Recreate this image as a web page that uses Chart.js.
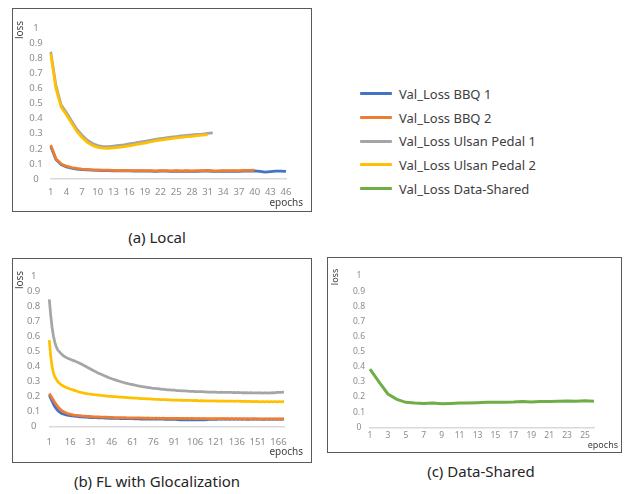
<!DOCTYPE html>
<html>
<head>
<meta charset="utf-8">
<script src="https://cdn.jsdelivr.net/npm/chart.js@4.4.0/dist/chart.umd.min.js"></script>
<style>
  body { margin: 0; background: #fff; font-family: "Noto Sans", sans-serif; }
  .box { position: absolute; border: 1px solid #595959; background: #fff; }
  .box canvas { display: block; }
  .cap { position: absolute; width: 220px; text-align: center; font-size: 15px; line-height: 20px; color: #262626; white-space: nowrap; }
  #legend { position: absolute; left: 360px; top: 82px; }
  .item { height: 23.7px; display: flex; align-items: center; font-size: 13px; color: #404040; }
  .item span.sw { display: inline-block; width: 32px; height: 3px; margin-right: 7px; border-radius: 1px; }
</style>
</head>
<body>
<div class="box" style="left:12px;top:8px;"><canvas id="chartA" width="298" height="202"></canvas></div>
<div class="box" style="left:12px;top:258px;"><canvas id="chartB" width="298" height="203"></canvas></div>
<div class="box" style="left:327px;top:257px;"><canvas id="chartC" width="293" height="194"></canvas></div>
<div class="cap" style="left:47px;top:227px;">(a) Local</div>
<div class="cap" style="left:47px;top:471px;">(b) FL with Glocalization</div>
<div class="cap" style="left:371px;top:461px;">(c) Data-Shared</div>
<div id="legend"></div>

<script>
// series names / colours (legend order)
const seriesNames = ['Val_Loss BBQ 1', 'Val_Loss BBQ 2', 'Val_Loss Ulsan Pedal 1', 'Val_Loss Ulsan Pedal 2', 'Val_Loss Data-Shared'];
const seriesColors = ['#4472C4', '#ED7D31', '#A5A5A5', '#FFC000', '#70AD47'];
const xTitle = 'epochs';
const yTitle = 'loss';

// (a) Local - epochs 1..46
const epochsA = Array.from({ length: 46 }, (_, i) => String(i + 1));
const localBBQ1 = [0.215,0.13,0.095,0.08,0.072,0.066,0.062,0.06,0.058,0.057,
  0.056,0.055,0.054,0.053,0.054,0.053,0.052,0.053,0.052,0.052,
  0.051,0.052,0.052,0.051,0.052,0.051,0.052,0.051,0.051,0.052,
  0.052,0.051,0.051,0.052,0.051,0.052,0.051,0.052,0.052,0.053,
  0.05,0.046,0.049,0.052,0.052,0.05];
const localBBQ2 = [0.225,0.135,0.1,0.085,0.076,0.07,0.066,0.063,0.061,0.06,
  0.059,0.058,0.057,0.056,0.057,0.056,0.055,0.056,0.055,0.055,
  0.054,0.055,0.055,0.054,0.055,0.054,0.055,0.054,0.055,0.056,
  0.057,0.055,0.054,0.055,0.056,0.055,0.056,0.057,0.057,0.058];
const localUlsan1 = [0.843,0.62,0.49,0.44,0.385,0.33,0.29,0.257,0.235,0.222,
  0.215,0.214,0.218,0.222,0.226,0.232,0.238,0.244,0.25,0.256,
  0.262,0.268,0.273,0.277,0.281,0.285,0.289,0.292,0.295,0.298,
  0.302,0.305];
const localUlsan2 = [0.83,0.6,0.475,0.425,0.37,0.315,0.275,0.243,0.222,0.21,
  0.204,0.203,0.206,0.21,0.214,0.22,0.226,0.232,0.238,0.245,
  0.252,0.258,0.263,0.268,0.272,0.276,0.28,0.283,0.287,0.29,
  0.294];

// (b) FL with Glocalization - epochs 1..170
const epochsB = Array.from({ length: 170 }, (_, i) => String(i + 1));
const flBBQ1 = [0.21,0.19,0.17,0.15,0.133,0.12,0.109,0.1,0.093,0.088,
  0.084,0.081,0.079,0.077,0.075,0.074,0.072,0.071,0.07,0.069,
  0.068,0.067,0.066,0.066,0.065,0.064,0.064,0.063,0.062,0.062,
  0.061,0.061,0.06,0.06,0.06,0.059,0.059,0.058,0.058,0.058,
  0.057,0.057,0.057,0.056,0.056,0.056,0.056,0.055,0.055,0.055,
  0.055,0.054,0.054,0.054,0.054,0.054,0.053,0.053,0.053,0.053,
  0.053,0.052,0.052,0.052,0.052,0.052,0.051,0.052,0.051,0.051,
  0.051,0.051,0.051,0.05,0.051,0.05,0.05,0.051,0.05,0.05,
  0.05,0.05,0.05,0.049,0.05,0.049,0.049,0.05,0.049,0.049,
  0.048,0.048,0.047,0.047,0.046,0.046,0.046,0.046,0.046,0.046,
  0.046,0.046,0.046,0.046,0.046,0.046,0.046,0.046,0.046,0.046,
  0.046,0.046,0.046,0.047,0.047,0.048,0.048,0.049,0.049,0.049,
  0.05,0.049,0.05,0.05,0.049,0.05,0.05,0.049,0.05,0.05,
  0.049,0.05,0.05,0.049,0.05,0.05,0.049,0.05,0.05,0.049,
  0.05,0.05,0.049,0.05,0.049,0.05,0.05,0.049,0.05,0.05,
  0.049,0.05,0.05,0.049,0.05,0.049,0.05,0.05,0.049,0.05,
  0.05,0.049,0.05,0.05,0.049,0.05,0.05,0.049,0.05,0.05];
const flBBQ2 = [0.22,0.205,0.19,0.175,0.16,0.147,0.135,0.124,0.115,0.107,
  0.101,0.096,0.092,0.088,0.085,0.083,0.081,0.079,0.077,0.076,
  0.075,0.074,0.073,0.072,0.071,0.07,0.07,0.069,0.068,0.068,
  0.067,0.067,0.066,0.066,0.065,0.065,0.065,0.064,0.064,0.064,
  0.063,0.063,0.063,0.062,0.062,0.062,0.062,0.061,0.061,0.061,
  0.061,0.06,0.06,0.06,0.06,0.06,0.059,0.059,0.059,0.059,
  0.059,0.058,0.059,0.058,0.058,0.058,0.058,0.057,0.058,0.057,
  0.057,0.058,0.057,0.057,0.057,0.056,0.057,0.057,0.056,0.057,
  0.056,0.056,0.057,0.056,0.056,0.056,0.055,0.056,0.056,0.055,
  0.056,0.055,0.056,0.055,0.055,0.056,0.055,0.055,0.054,0.055,
  0.055,0.054,0.055,0.055,0.054,0.055,0.054,0.054,0.055,0.054,
  0.054,0.055,0.054,0.054,0.053,0.054,0.054,0.053,0.054,0.054,
  0.053,0.054,0.053,0.053,0.054,0.053,0.053,0.054,0.053,0.053,
  0.052,0.053,0.053,0.052,0.053,0.053,0.052,0.053,0.052,0.052,
  0.053,0.052,0.052,0.053,0.052,0.052,0.052,0.053,0.052,0.052,
  0.052,0.051,0.052,0.052,0.051,0.052,0.052,0.051,0.052,0.052,
  0.051,0.052,0.052,0.051,0.052,0.052,0.051,0.052,0.052,0.052];
const flUlsan1 = [0.845,0.74,0.66,0.6,0.56,0.53,0.51,0.5,0.49,0.48,
  0.472,0.466,0.46,0.455,0.451,0.447,0.444,0.44,0.437,0.433,
  0.43,0.425,0.421,0.416,0.411,0.406,0.401,0.396,0.391,0.386,
  0.381,0.376,0.371,0.367,0.362,0.357,0.353,0.349,0.345,0.341,
  0.337,0.333,0.329,0.325,0.322,0.318,0.315,0.312,0.309,0.306,
  0.303,0.3,0.297,0.295,0.292,0.289,0.287,0.285,0.283,0.281,
  0.279,0.277,0.275,0.273,0.271,0.27,0.268,0.266,0.265,0.263,
  0.262,0.26,0.259,0.258,0.256,0.255,0.254,0.253,0.252,0.251,
  0.25,0.249,0.248,0.247,0.246,0.245,0.245,0.244,0.243,0.242,
  0.242,0.241,0.24,0.24,0.239,0.238,0.238,0.237,0.237,0.236,
  0.236,0.235,0.235,0.234,0.234,0.233,0.233,0.233,0.232,0.232,
  0.232,0.231,0.231,0.231,0.23,0.23,0.23,0.229,0.229,0.229,
  0.229,0.228,0.228,0.228,0.229,0.228,0.227,0.227,0.228,0.227,
  0.227,0.227,0.226,0.227,0.226,0.226,0.227,0.226,0.226,0.225,
  0.226,0.225,0.226,0.225,0.225,0.226,0.225,0.224,0.225,0.225,
  0.224,0.225,0.224,0.224,0.223,0.224,0.224,0.223,0.224,0.225,
  0.225,0.226,0.225,0.226,0.227,0.227,0.228,0.228,0.229,0.23];
const flUlsan2 = [0.575,0.47,0.4,0.355,0.33,0.315,0.3,0.29,0.282,0.275,
  0.27,0.265,0.261,0.257,0.253,0.25,0.247,0.244,0.241,0.238,
  0.235,0.232,0.229,0.227,0.225,0.223,0.221,0.22,0.218,0.217,
  0.216,0.215,0.213,0.212,0.211,0.21,0.209,0.208,0.207,0.206,
  0.205,0.204,0.203,0.202,0.202,0.201,0.2,0.199,0.199,0.198,
  0.197,0.197,0.196,0.195,0.195,0.194,0.193,0.193,0.192,0.191,
  0.191,0.19,0.19,0.189,0.188,0.188,0.187,0.187,0.186,0.186,
  0.185,0.185,0.184,0.184,0.183,0.183,0.182,0.182,0.181,0.181,
  0.18,0.18,0.18,0.179,0.179,0.178,0.178,0.178,0.177,0.177,
  0.177,0.176,0.176,0.176,0.175,0.176,0.175,0.175,0.174,0.175,
  0.174,0.174,0.175,0.173,0.174,0.173,0.174,0.173,0.172,0.173,
  0.172,0.173,0.172,0.171,0.172,0.171,0.172,0.171,0.17,0.171,
  0.171,0.17,0.171,0.17,0.17,0.171,0.169,0.17,0.17,0.169,
  0.17,0.169,0.169,0.17,0.168,0.169,0.169,0.168,0.169,0.168,
  0.168,0.169,0.167,0.168,0.168,0.167,0.168,0.167,0.166,0.168,
  0.166,0.167,0.165,0.167,0.166,0.165,0.167,0.166,0.165,0.166,
  0.166,0.165,0.166,0.167,0.165,0.166,0.166,0.165,0.166,0.166];

// (c) Data-Shared - epochs 1..26
const epochsC = Array.from({ length: 26 }, (_, i) => String(i + 1));
const sharedLoss = [0.385,0.3,0.22,0.185,0.165,0.16,0.158,0.16,0.155,0.157,
  0.16,0.16,0.162,0.165,0.165,0.166,0.167,0.17,0.168,0.17,
  0.17,0.172,0.173,0.172,0.175,0.172];

// legend (html)
const legend = document.getElementById('legend');
seriesNames.forEach((name, i) => {
  const row = document.createElement('div');
  row.className = 'item';
  row.innerHTML = '<span class="sw" style="background:' + seriesColors[i] + '"></span>' + name;
  legend.appendChild(row);
});

// draws "loss" (rotated, top left) and "epochs" (bottom right)
const axisTitles = {
  id: 'axisTitles',
  afterDraw(chart, args, opts) {
    const ctx = chart.ctx, area = chart.chartArea;
    ctx.save();
    ctx.fillStyle = '#404040';
    ctx.font = opts.size + 'px "Noto Sans"';
    ctx.textBaseline = 'middle';
    ctx.textAlign = 'right';
    ctx.fillText(xTitle, area.right + opts.ex, area.bottom + opts.ey);
    ctx.translate(opts.lx, area.top + opts.ly);
    ctx.rotate(-Math.PI / 2);
    ctx.textAlign = 'center';
    ctx.fillText(yTitle, 0, 0);
    ctx.restore();
  }
};

function line(idx, data, width) {
  return {
    label: seriesNames[idx],
    data: data,
    borderColor: seriesColors[idx],
    backgroundColor: seriesColors[idx],
    borderWidth: width,
    pointRadius: 0,
    tension: 0,
    fill: false,
    order: 5 - idx
  };
}

function makeChart(id, labels, step, datasets, s) {
  return new Chart(document.getElementById(id), {
    type: 'line',
    data: { labels: labels, datasets: datasets },
    plugins: [axisTitles],
    options: {
      responsive: false,
      animation: false,
      devicePixelRatio: 1,
      layout: { padding: { top: s.top, right: s.right, left: 0, bottom: 0 } },
      plugins: {
        legend: { display: false },
        tooltip: { enabled: false },
        axisTitles: { size: s.tsize, lx: s.lx, ly: s.ly, ex: s.ex, ey: s.ey }
      },
      scales: {
        x: {
          offset: false,
          grid: { display: false, drawTicks: false },
          border: { display: true, color: '#d9d9d9', width: 1.5 },
          ticks: {
            autoSkip: false, maxRotation: 0, color: '#8c8c8c', padding: s.xpad,
            font: { family: 'Noto Sans', size: s.font },
            callback: (v, i) => (i % step === 0 ? labels[i] : '')
          },
          afterFit: sc => { sc.height = s.xh; }
        },
        y: {
          min: 0, max: 1,
          grid: { display: false, drawTicks: false },
          border: { display: false },
          ticks: {
            stepSize: 0.1, color: '#8c8c8c', padding: s.ypad, crossAlign: 'center',
            font: { family: 'Noto Sans', size: s.font },
            callback: v => String(Number(v.toFixed(1)))
          },
          afterFit: sc => { sc.width = s.yw; }
        }
      }
    }
  });
}

makeChart('chartA', epochsA, 3, [
  line(0, localBBQ1, 2.75), line(1, localBBQ2, 2.75),
  line(2, localUlsan1, 2.75), line(3, localUlsan2, 2.75)
], { top: 19, right: 25, yw: 37.7, xh: 32, ypad: 8, xpad: 8, font: 9.5, tsize: 10, lx: 7, ly: 2, ex: 17, ey: 24 });

makeChart('chartB', epochsB, 15, [
  line(0, flBBQ1, 2.75), line(1, flBBQ2, 2.75),
  line(2, flUlsan1, 2.75), line(3, flUlsan2, 2.75)
], { top: 17, right: 27, yw: 36.3, xh: 35.3, ypad: 9, xpad: 9.5, font: 9.5, tsize: 10, lx: 7, ly: 4, ex: 19, ey: 25 });

makeChart('chartC', epochsC, 2, [
  line(4, sharedLoss, 3)
], { top: 18, right: 27, yw: 42, xh: 24.7, ypad: 5, xpad: 3, font: 8.5, tsize: 9, lx: 7, ly: 1, ex: 24, ey: 18 });
</script>
</body>
</html>
